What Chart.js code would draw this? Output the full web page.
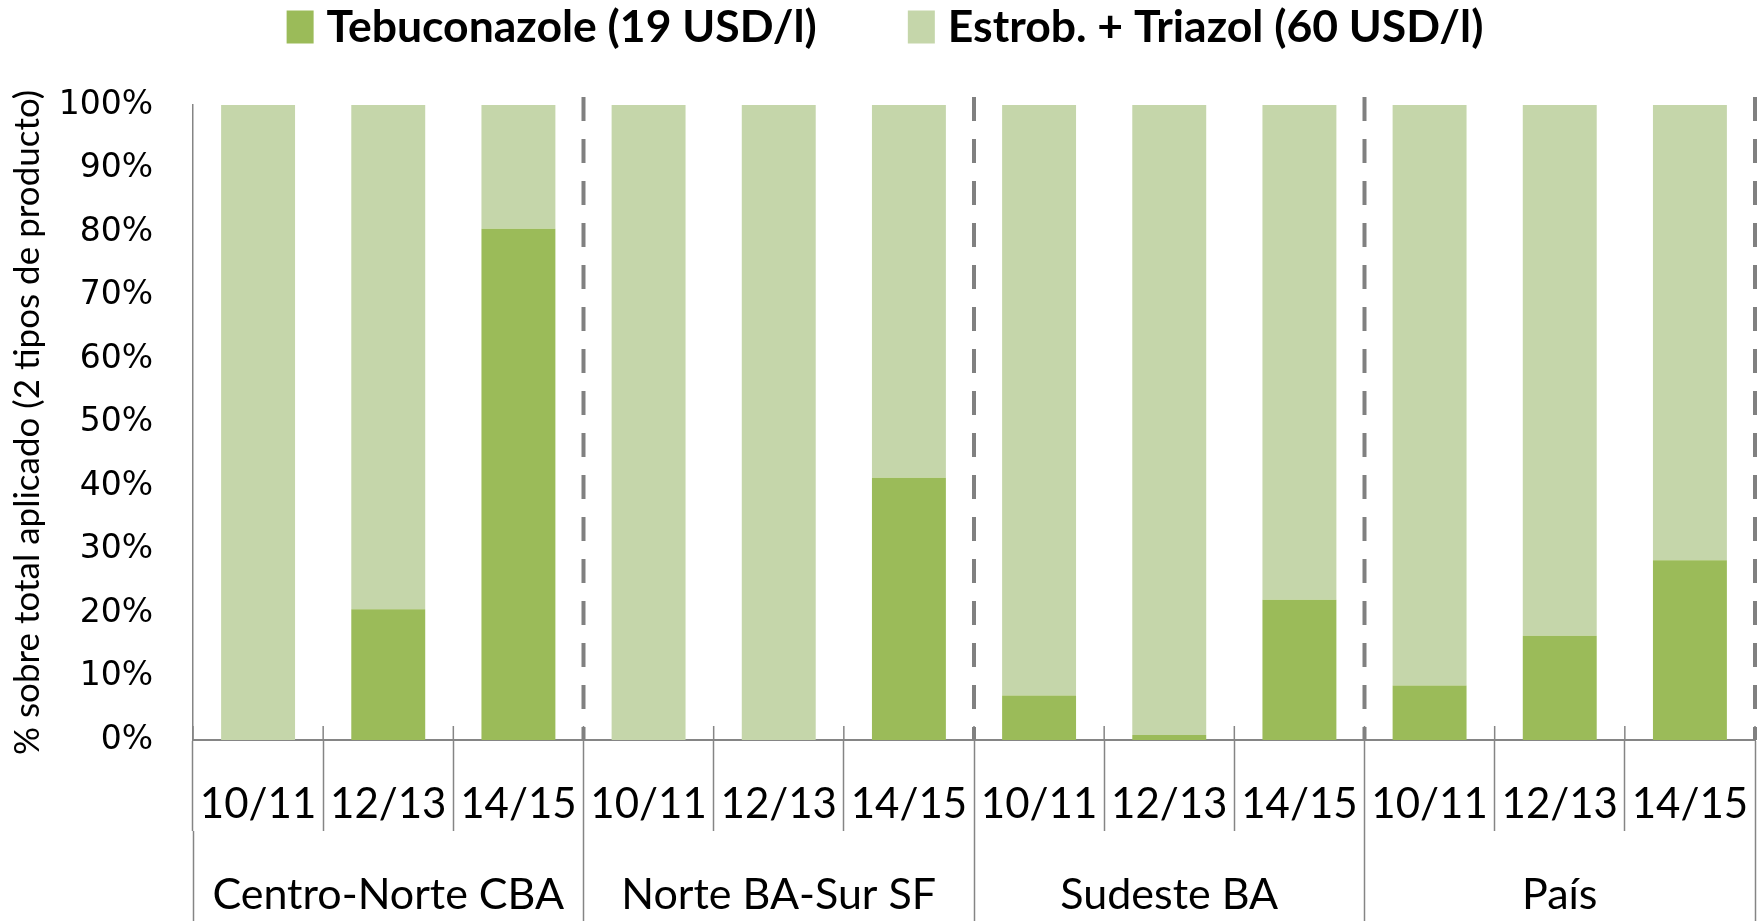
<!DOCTYPE html>
<html>
<head>
<meta charset="utf-8">
<script src="https://cdn.jsdelivr.net/npm/chart.js@4.4.1/dist/chart.umd.min.js"></script>
<style>
html,body{margin:0;padding:0;background:#fff;overflow:hidden}
#wrap{width:1761px;height:921px;position:relative}
</style>
</head>
<body>
<div id="wrap"><canvas id="c" width="1761" height="921"></canvas></div>
<script>
// ---- data ----
const regions = ['Centro-Norte CBA', 'Norte BA-Sur SF', 'Sudeste BA', 'País'];
const campaigns = ['10/11', '12/13', '14/15'];
const categories = ['10/11','12/13','14/15','10/11','12/13','14/15','10/11','12/13','14/15','10/11','12/13','14/15'];
const tebuconazole = [0, 20.6, 80.5, 0, 0, 41.3, 7.0, 0.8, 22.1, 8.6, 16.4, 28.3];
const estrobTriazol = [100, 79.4, 19.5, 100, 100, 58.7, 93.0, 99.2, 77.9, 91.4, 83.6, 71.7];
const yTickLabels = ['0%','10%','20%','30%','40%','50%','60%','70%','80%','90%','100%'];
const seriesNames = ['Tebuconazole (19 USD/l)', 'Estrob. + Triazol (60 USD/l)'];
const yTitle = '% sobre total aplicado (2 tipos de producto)';

const GRAY = '#858585';
const DARK = '#9BBB59';
const LIGHT = '#C5D6AA';

const decorPlugin = {
  id: 'decor',
  afterDatasetsDraw(chart) {
    const ctx = chart.ctx;
    const xs = chart.scales.x;
    const area = chart.chartArea;
    const half = (xs.getPixelForValue(1) - xs.getPixelForValue(0)) / 2;
    ctx.save();
    // small cross ticks above axis at each category boundary
    ctx.strokeStyle = GRAY;
    ctx.lineWidth = 1.5;
    for (let i = 0; i <= categories.length; i++) {
      const x = xs.getPixelForValue(0) - half + i * 2 * half;
      ctx.beginPath();
      ctx.moveTo(x, area.bottom - 14);
      ctx.lineTo(x, area.bottom);
      ctx.stroke();
    }
    // dashed separators between regions
    ctx.lineWidth = 4;
    ctx.strokeStyle = '#808080';
    ctx.setLineDash([24, 18]);
    for (let g = 1; g <= regions.length; g++) {
      const idx = g * campaigns.length - 1;
      const x = xs.getPixelForValue(idx) + half;
      ctx.beginPath();
      ctx.moveTo(x, area.top - 8);
      ctx.lineTo(x, area.bottom);
      ctx.stroke();
    }
    ctx.restore();
  },
  afterDraw(chart) {
    // legend
    const ctx = chart.ctx;
    ctx.save();
    ctx.font = 'bold 44.5px Lato';
    ctx.textBaseline = 'middle';
    const boxW = 27, boxH = 33, gapText = 13, gapItem = 91, cy = 27;
    const ds = chart.data.datasets;
    let total = 0;
    ds.forEach((d, i) => {
      total += boxW + gapText + ctx.measureText(d.label).width;
      if (i < ds.length - 1) total += gapItem;
    });
    let x = 885 - total / 2;
    ds.forEach((d) => {
      ctx.fillStyle = d.backgroundColor;
      ctx.fillRect(x, cy - boxH / 2, boxW, boxH);
      x += boxW + gapText;
      ctx.fillStyle = '#000';
      ctx.fillText(d.label, x, cy + 1);
      x += ctx.measureText(d.label).width + gapItem;
    });
    ctx.restore();
  }
};

new Chart(document.getElementById('c'), {
  type: 'bar',
  data: {
    labels: categories,
    datasets: [
      { label: seriesNames[0], data: tebuconazole, backgroundColor: DARK, borderWidth: 0,
        categoryPercentage: 1, barPercentage: 0.568 },
      { label: seriesNames[1], data: estrobTriazol, backgroundColor: LIGHT, borderWidth: 0,
        categoryPercentage: 1, barPercentage: 0.568 }
    ]
  },
  options: {
    responsive: false,
    animation: false,
    devicePixelRatio: 1,
    layout: { padding: { top: 105, right: 6, bottom: 0, left: 0 } },
    plugins: {
      legend: { display: false },
      tooltip: { enabled: false }
    },
    scales: {
      x: {
        type: 'category',
        stacked: true,
        offset: true,
        grid: { display: true, offset: true, drawOnChartArea: false, drawTicks: true,
                tickLength: 91, tickColor: GRAY, tickWidth: 1.5 },
        border: { display: true, color: GRAY, width: 2 },
        ticks: { font: { family: 'Lato', size: 42 }, color: '#000', padding: -52,
                 maxRotation: 0, minRotation: 0, autoSkip: false },
        afterFit: (s) => { s.height = 91; }
      },
      x2: {
        type: 'category',
        position: 'bottom',
        labels: regions,
        offset: true,
        grid: { display: true, offset: true, drawOnChartArea: false, drawTicks: true,
                tickLength: 90, tickColor: GRAY, tickWidth: 1.5 },
        border: { display: false },
        ticks: { font: { family: 'Lato', size: 43 }, color: '#000', padding: -52,
                 maxRotation: 0, minRotation: 0, autoSkip: false },
        afterFit: (s) => { s.height = 90; }
      },
      y: {
        stacked: true,
        min: 0,
        max: 100,
        grid: { display: false },
        border: { display: true, color: GRAY, width: 1.5 },
        ticks: { stepSize: 10, callback: (v) => yTickLabels[Math.round(v / 10)],
                 font: { family: 'DejaVu Sans', size: 33 }, color: '#000', padding: 32 },
        title: { display: true, text: yTitle, font: { family: 'Lato', size: 35 }, color: '#000',
                 padding: { top: 7, bottom: 0 } },
        afterFit: (s) => { s.width = 193; }
      }
    }
  },
  plugins: [decorPlugin]
});
</script>
</body>
</html>
